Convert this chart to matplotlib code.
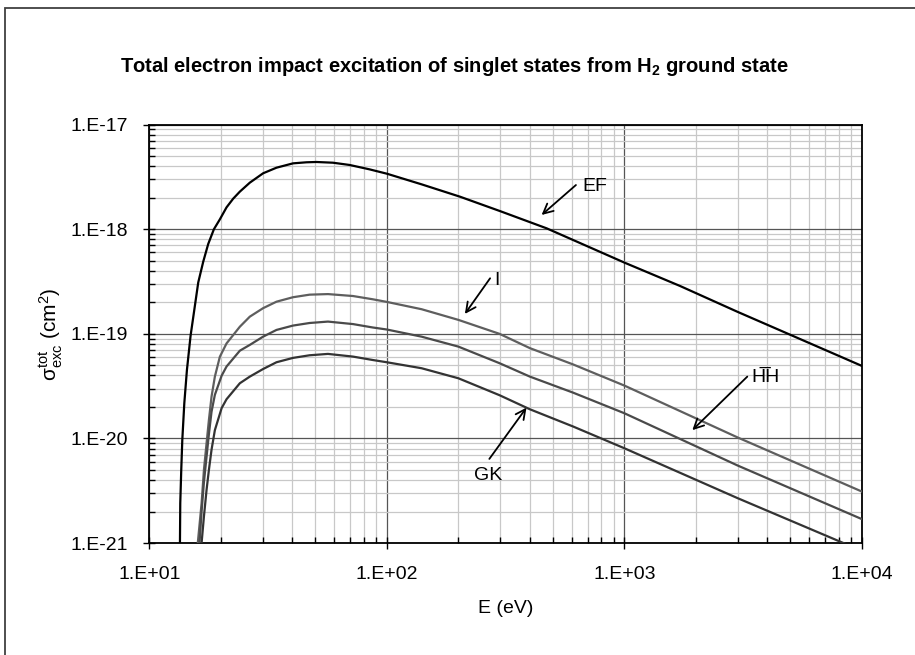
import matplotlib
matplotlib.use("Agg")
import matplotlib.pyplot as plt
from matplotlib.patches import Rectangle
from matplotlib.ticker import LogLocator, NullFormatter

plt.rcParams['font.family'] = ['Liberation Sans', 'DejaVu Sans']
plt.rcParams['mathtext.fontset'] = 'custom'
plt.rcParams['mathtext.rm'] = 'Liberation Sans'
plt.rcParams['mathtext.it'] = 'Liberation Sans:italic'
plt.rcParams['mathtext.bf'] = 'Liberation Sans:bold'

# ---- data ----
E_EF = [13.46, 13.50, 13.63, 13.77, 14.04, 14.40, 14.92, 15.61, 16.07, 16.87, 17.70, 18.70,
        19.82, 21.14, 22.54, 24.05, 26.49, 30.13, 34.30, 40.27, 45.85, 50.51, 59.31, 69.70,
        84.60, 100, 140, 203, 300, 471, 1000, 1714, 3000, 10000]
S_EF = [1.0e-21, 2.4e-21, 5.0e-21, 9.7e-21, 2.17e-20, 4.51e-20, 9.6e-20, 1.96e-19, 3.1e-19,
        4.91e-19, 7.23e-19, 1.0e-18, 1.245e-18, 1.62e-18, 1.96e-18, 2.29e-18, 2.79e-18,
        3.43e-18, 3.88e-18, 4.27e-18, 4.37e-18, 4.40e-18, 4.33e-18, 4.12e-18, 3.74e-18,
        3.40e-18, 2.69e-18, 2.05e-18, 1.49e-18, 1.02e-18, 4.8e-19, 2.87e-19, 1.62e-19, 4.93e-20]

E_I = [16.0, 16.6, 16.98, 17.42, 17.82, 18.28, 18.88, 19.82, 21.14, 24.05, 26.49, 30.13, 34.3,
       40.27, 47.3, 56.5, 72.0, 87.3, 100, 140, 200, 298, 400, 608, 1000, 3000, 10000]
S_I = [1.0e-21, 2.4e-21, 5.0e-21, 9.0e-21, 1.5e-20, 2.51e-20, 3.9e-20, 6.05e-20, 8.1e-20,
       1.17e-19, 1.46e-19, 1.76e-19, 2.03e-19, 2.24e-19, 2.37e-19, 2.40e-19, 2.30e-19,
       2.14e-19, 2.02e-19, 1.72e-19, 1.36e-19, 1.0e-19, 7.3e-20, 5.1e-20, 3.2e-20, 1.02e-20,
       3.1e-21]

E_HH = [16.27, 16.6, 16.98, 17.42, 17.82, 18.28, 18.88, 20.16, 21.14, 24.05, 26.49, 30.13,
        34.3, 40.27, 47.3, 56.5, 72.0, 87.3, 100, 140, 200, 298, 400, 608, 1000, 3000, 10000]
S_HH = [1.0e-21, 2.0e-21, 3.8e-21, 6.7e-21, 1.1e-20, 1.8e-20, 2.61e-20, 3.98e-20, 4.87e-20,
        6.9e-20, 7.84e-20, 9.4e-20, 1.09e-19, 1.20e-19, 1.27e-19, 1.31e-19, 1.24e-19,
        1.15e-19, 1.10e-19, 9.4e-20, 7.55e-20, 5.24e-20, 3.9e-20, 2.74e-20, 1.74e-20,
        5.5e-21, 1.69e-21]

E_GK = [16.6, 16.98, 17.42, 17.82, 18.28, 18.88, 20.16, 21.14, 24.05, 26.49, 30.13, 34.3,
        40.27, 47.3, 56.5, 72.0, 87.3, 100, 140, 200, 298, 400, 608, 1000, 3000, 10000]
S_GK = [1.0e-21, 1.79e-21, 3.22e-21, 5.0e-21, 7.8e-21, 1.2e-20, 1.95e-20, 2.37e-20, 3.37e-20,
        3.9e-20, 4.61e-20, 5.35e-20, 5.89e-20, 6.24e-20, 6.43e-20, 6.06e-20, 5.62e-20,
        5.35e-20, 4.69e-20, 3.76e-20, 2.59e-20, 1.9e-20, 1.3e-20, 8.05e-21, 2.68e-21, 8.4e-22]

x_ticks = [1e1, 1e2, 1e3, 1e4]
x_tick_labels = ['1.E+01', '1.E+02', '1.E+03', '1.E+04']
y_ticks = [1e-21, 1e-20, 1e-19, 1e-18, 1e-17]
y_tick_labels = ['1.E-21', '1.E-20', '1.E-19', '1.E-18', '1.E-17']

# annotation labels: (text, arrow tip, arrow tail, text position)
ann_labels = ['EF', 'I', 'H\u0305H', 'GK']
ann_tip = [(448, 1.37e-18), (213, 1.55e-19), (1931, 1.2e-20), (387, 1.97e-20)]
ann_tail = [(625, 2.65e-18), (272, 3.4e-19), (3290, 3.9e-20), (270, 6.37e-21)]
ann_text = [(664, 2.54e-18), (284, 3.27e-19), (3436, 3.8e-20), (268, 4.4e-21)]
ann_ha = ['left', 'left', 'left', 'center']

# ---- figure ----
fig = plt.figure(figsize=(9.15, 6.55), dpi=100)
ax = fig.add_axes([149.3 / 915, 1 - 543 / 655, (862 - 149.3) / 915, (543 - 124.7) / 655])

ax.set_xscale('log')
ax.set_yscale('log')
ax.set_xlim(1e1, 1e4)
ax.set_ylim(1e-21, 1e-17)

ax.plot(E_EF, S_EF, color='#000000', lw=1.6, zorder=5)
ax.plot(E_I, S_I, color='#5e5e5e', lw=1.6, zorder=5)
ax.plot(E_HH, S_HH, color='#4a4a4a', lw=1.6, zorder=5)
ax.plot(E_GK, S_GK, color='#333333', lw=1.6, zorder=5)

ax.set_xticks(x_ticks)
ax.set_xticklabels(x_tick_labels)
ax.set_yticks(y_ticks)
ax.set_yticklabels(y_tick_labels)
ax.xaxis.set_minor_locator(LogLocator(base=10, subs=range(2, 10)))
ax.yaxis.set_minor_locator(LogLocator(base=10, subs=range(2, 10)))
ax.xaxis.set_minor_formatter(NullFormatter())
ax.yaxis.set_minor_formatter(NullFormatter())

ax.grid(True, which='minor', color='#c8c8c8', lw=0.9)
ax.grid(True, which='major', color='#555555', lw=0.9)
ax.set_axisbelow(True)

ax.tick_params(which='major', direction='inout', length=9, width=1.0, labelsize=14,
               colors='black')
ax.tick_params(axis='y', which='major', pad=11)
ax.tick_params(axis='x', which='major', pad=12)
ax.tick_params(which='minor', direction='in', length=4, width=1.0)
for s in ax.spines.values():
    s.set_linewidth(1.3)
    s.set_color('black')

ax.set_xlabel('E (eV)', fontsize=14, labelpad=12)
ax.set_ylabel(r'$\mathregular{σ^{tot}_{exc}\ (cm^2)}$', fontsize=15, labelpad=4)

for lab, tip, tail, tp, ha in zip(ann_labels, ann_tip, ann_tail, ann_text, ann_ha):
    ax.annotate('', xy=tip, xytext=tail,
                arrowprops=dict(arrowstyle='->,head_length=0.7,head_width=0.35',
                                color='black', lw=1.3, shrinkA=0, shrinkB=0), zorder=6)
    ax.text(tp[0], tp[1], lab, fontsize=14, ha=ha, va='center', zorder=6)

fig.text(0.496, 1 - 66 / 655,
         r'Total electron impact excitation of singlet states from H$\mathregular{_2}$ ground state',
         fontsize=14.5, fontweight='bold', ha='center', va='center')

fig.patches.append(Rectangle((5 / 915, -0.05), 1.0, 1.05 - 8 / 655,
                             transform=fig.transFigure, fill=False,
                             edgecolor='#404040', lw=1.3))

fig.savefig('out.png', dpi=100)
